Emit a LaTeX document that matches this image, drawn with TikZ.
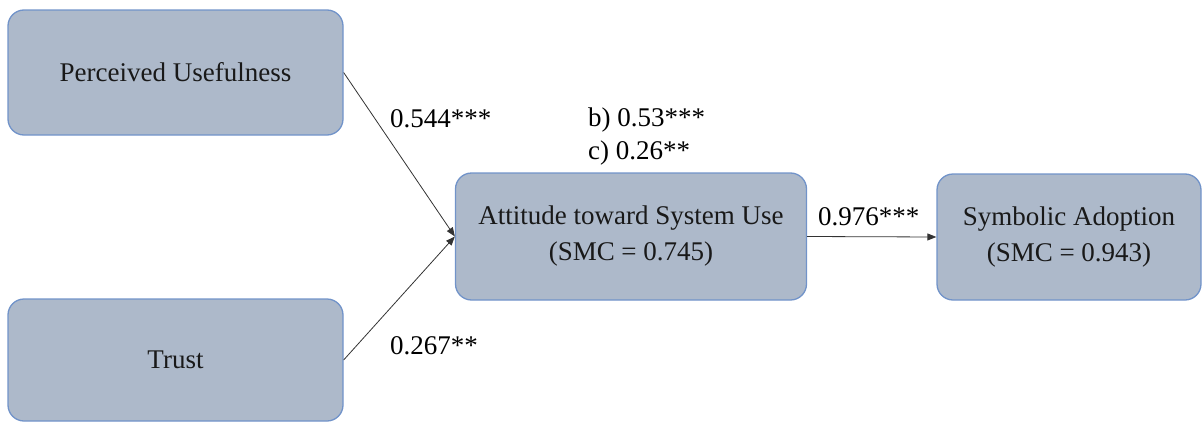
\documentclass[tikz,border=0pt]{standalone}
\usepackage{fontspec}
\setmainfont{Liberation Serif}
\usetikzlibrary{arrows.meta}
\definecolor{boxfill}{HTML}{ADB9CA}
\definecolor{boxline}{HTML}{7193C9}

\begin{document}
\begin{tikzpicture}[x=1pt, y=-1pt,
    construct/.style={rectangle, rounded corners=16pt, draw=boxline,
        line width=1.3pt, fill=boxfill, align=center, inner sep=0pt,
        text=black!90, font=\rmfamily\fontsize{27}{36}\selectfont},
    effect/.style={draw=black!80, line width=0.8pt,
        -{Triangle[length=9pt, width=7pt]}},
    coef/.style={anchor=base west, inner sep=0pt, align=left,
        font=\rmfamily\fontsize{27}{33}\selectfont}
]
    \useasboundingbox (0,0) rectangle (1202,423);
    \node[construct, minimum width=335pt, minimum height=125pt] (pu) at (175.5,72.5) {Perceived Usefulness};
    \node[construct, minimum width=335pt, minimum height=122pt] (trust) at (175.5,360) {Trust};
    \node[construct, minimum width=351pt, minimum height=127pt] (att) at (631,236.5) {Attitude toward System Use\\(SMC = 0.745)};
    \node[construct, minimum width=264pt, minimum height=126pt] (sa) at (1069,237) {Symbolic Adoption\\(SMC = 0.943)};
    \draw[effect] (pu.east) -- (att.west);
    \draw[effect] (trust.east) -- (att.west);
    \draw[effect] (att.east) -- (sa.west);
    \node[coef] (c1) at (390,127) {0.544***};
    \node[coef] (c2) at (588,159) {b) 0.53***\\c) 0.26**};
    \node[coef] (c3) at (818,225) {0.976***};
    \node[coef] (c4) at (390,354) {0.267**};
\end{tikzpicture}
\end{document}
